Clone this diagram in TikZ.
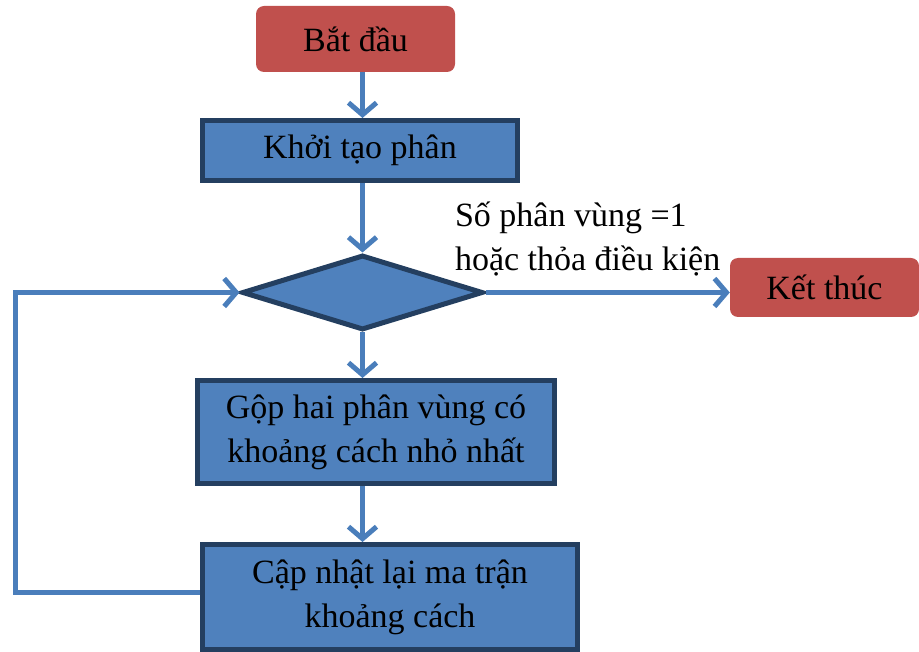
\documentclass[tikz,border=0pt]{standalone}
\usepackage{fontspec}
\setmainfont{Liberation Serif}
\usetikzlibrary{arrows.meta,shapes.geometric}
\definecolor{boxred}{HTML}{C0504D}
\definecolor{boxblue}{HTML}{4F81BD}
\definecolor{boxedge}{HTML}{243F60}
\definecolor{flow}{HTML}{4A7EBB}
\tikzset{
  txt/.style={font=\fontsize{34}{44}\selectfont, text=black, align=center},
  terminal/.style={txt, fill=boxred, rounded corners=8pt, inner sep=0pt},
  process/.style={txt, fill=boxblue, draw=boxedge, line width=5pt, inner sep=0pt},
  decision/.style={diamond, fill=boxblue, draw=boxedge, line width=5pt, inner sep=0pt,
    minimum width=241pt, minimum height=75pt, aspect=3.2},
  arr/.style={draw=flow, line width=5pt,
    -{Straight Barb[length=12pt,width=28pt,line width=5pt]}},
}
\begin{document}
\begin{tikzpicture}[x=1pt,y=-1pt]
  \useasboundingbox (0,0) rectangle (919,652);

  \node[terminal, minimum width=199pt, minimum height=66pt] (start) at (355.5,39) {Bắt đầu};
  \node[process, minimum width=315pt, minimum height=60pt] (init) at (360,150.5) {Khởi tạo phân};
  \node[decision] (cond) at (362.5,292.5) {};
  \node[terminal, minimum width=189pt, minimum height=59pt] (stop) at (824.5,287.5) {Kết thúc};
  \node[process, minimum width=357pt, minimum height=103pt] (merge) at (376,432)
    {Gộp hai phân vùng có\\khoảng cách nhỏ nhất};
  \node[process, minimum width=375pt, minimum height=105pt] (update) at (390,597)
    {Cập nhật lại ma trận\\khoảng cách};

  \draw[arr] (cond.north |- start.south) -- (cond.north |- init.north);
  \draw[arr] (cond.north |- init.south) -- (cond.north);
  \draw[arr] (cond.east) -- (cond.east -| stop.west)
    node[pos=0, anchor=south west, txt, align=left, inner sep=0pt,
         xshift=-33pt, yshift=14pt]
    {Số phân vùng =1\\hoặc thỏa điều kiện};
  \draw[arr] (cond.south) -- (cond.south |- merge.north);
  \draw[arr] (cond.south |- merge.south) -- (cond.south |- update.north);
  \draw[arr] ([yshift=5pt]update.west) -- ++(-185,0) |- (cond.west);
\end{tikzpicture}
\end{document}
